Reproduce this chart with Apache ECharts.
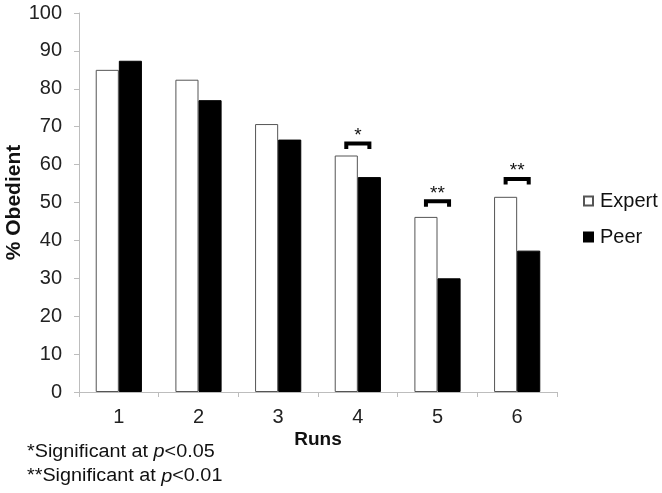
<!DOCTYPE html>
<html>
<head>
<meta charset="utf-8">
<script src="https://cdn.jsdelivr.net/npm/echarts@6/dist/echarts.min.js"></script>
<style>
  html, body { margin: 0; padding: 0; background: #fff; }
  #chart { width: 662px; height: 493px; }
</style>
</head>
<body>
<div id="chart"></div>
<script>
// data
const runs = ['1', '2', '3', '4', '5', '6'];
const expert = [85.0, 82.4, 70.7, 62.4, 46.2, 51.5];
const peer = [87.4, 77.0, 66.6, 56.7, 30.0, 37.3];
const yTicks = [0, 100, 10];  // min, max, interval

// significance brackets
const sigRuns = ['4', '5', '6'];
const sigLevels = [65.6, 50.3, 56.2];
const sigMarks = ['*', '**', '**'];

const FONT = "'Liberation Sans', Arial, sans-serif";
const BAR_PCT = 0.29;

const chart = echarts.init(document.getElementById('chart'));

function renderBracket(params, api) {
  const c = api.coord([api.value(0), api.value(1)]);
  const w = api.size([1, 0])[0];
  const half = w * BAR_PCT / 2;
  const drop = 5.5;
  return {
    type: 'group',
    children: [
      {
        type: 'polyline',
        shape: { points: [[c[0] - half, c[1] + drop], [c[0] - half, c[1]], [c[0] + half, c[1]], [c[0] + half, c[1] + drop]] },
        style: { stroke: '#000', lineWidth: 4, fill: null, lineJoin: 'miter' }
      },
      {
        type: 'text',
        style: {
          text: sigMarks[params.dataIndex],
          x: c[0], y: c[1] - 8,
          align: 'center', verticalAlign: 'middle',
          font: '19px ' + FONT, fill: '#111'
        }
      }
    ]
  };
}

const option = {
  animation: false,
  textStyle: { fontFamily: FONT },
  grid: { left: 79, right: 105, top: 13, bottom: 101, containLabel: false, outerBoundsMode: 'none' },
  legend: {
    orient: 'vertical',
    left: 578, top: 186,
    itemWidth: 9, itemHeight: 9, itemGap: 16,
    icon: 'rect',
    textStyle: { fontSize: 20, color: '#111', fontFamily: FONT, padding: [0, 0, 0, 2] },
    data: ['Expert', 'Peer']
  },
  xAxis: {
    type: 'category',
    data: runs,
    name: 'Runs',
    nameLocation: 'middle',
    nameGap: 38,
    nameMoveOverlap: false,
    nameTextStyle: { fontSize: 19, fontWeight: 'bold', color: '#111' },
    axisLine: { lineStyle: { color: '#bdbdbd', width: 1 } },
    axisTick: { show: true, length: 5, lineStyle: { color: '#bdbdbd' } },
    axisLabel: { fontSize: 20, color: '#222', margin: 15 }
  },
  yAxis: {
    type: 'value',
    min: yTicks[0], max: yTicks[1], interval: yTicks[2],
    name: '% Obedient',
    nameLocation: 'middle',
    nameGap: 54,
    nameMoveOverlap: false,
    nameTextStyle: { fontSize: 21, fontWeight: 'bold', color: '#111' },
    axisLine: { show: true, lineStyle: { color: '#bdbdbd', width: 1 } },
    axisTick: { show: true, length: 5, lineStyle: { color: '#bdbdbd' } },
    axisLabel: { fontSize: 20, color: '#222', margin: 17 },
    splitLine: { show: false }
  },
  series: [
    {
      name: 'Expert', type: 'bar', data: expert,
      barWidth: (BAR_PCT * 100) + '%', barGap: '0%',
      itemStyle: { color: '#fff', borderColor: '#555', borderWidth: 1 }
    },
    {
      name: 'Peer', type: 'bar', data: peer,
      barWidth: (BAR_PCT * 100) + '%', barGap: '0%',
      itemStyle: { color: '#000', borderColor: '#000', borderWidth: 1 }
    },
    {
      name: 'sig', type: 'custom', z: 5,
      data: sigRuns.map((r, i) => [r, sigLevels[i]]),
      renderItem: renderBracket
    }
  ],
  graphic: [
    {
      type: 'text', left: 27, top: 443, scaleX: 1.1,
      style: {
        text: '*Significant at {i|p}<0.05',
        font: '18px ' + FONT, fill: '#111',
        rich: { i: { fontStyle: 'italic', fontSize: 18, fontFamily: FONT } }
      }
    },
    {
      type: 'text', left: 27, top: 467.5, scaleX: 1.1,
      style: {
        text: '**Significant at {i|p}<0.01',
        font: '18px ' + FONT, fill: '#111',
        rich: { i: { fontStyle: 'italic', fontSize: 18, fontFamily: FONT } }
      }
    }
  ]
};

chart.setOption(option);
</script>
</body>
</html>
